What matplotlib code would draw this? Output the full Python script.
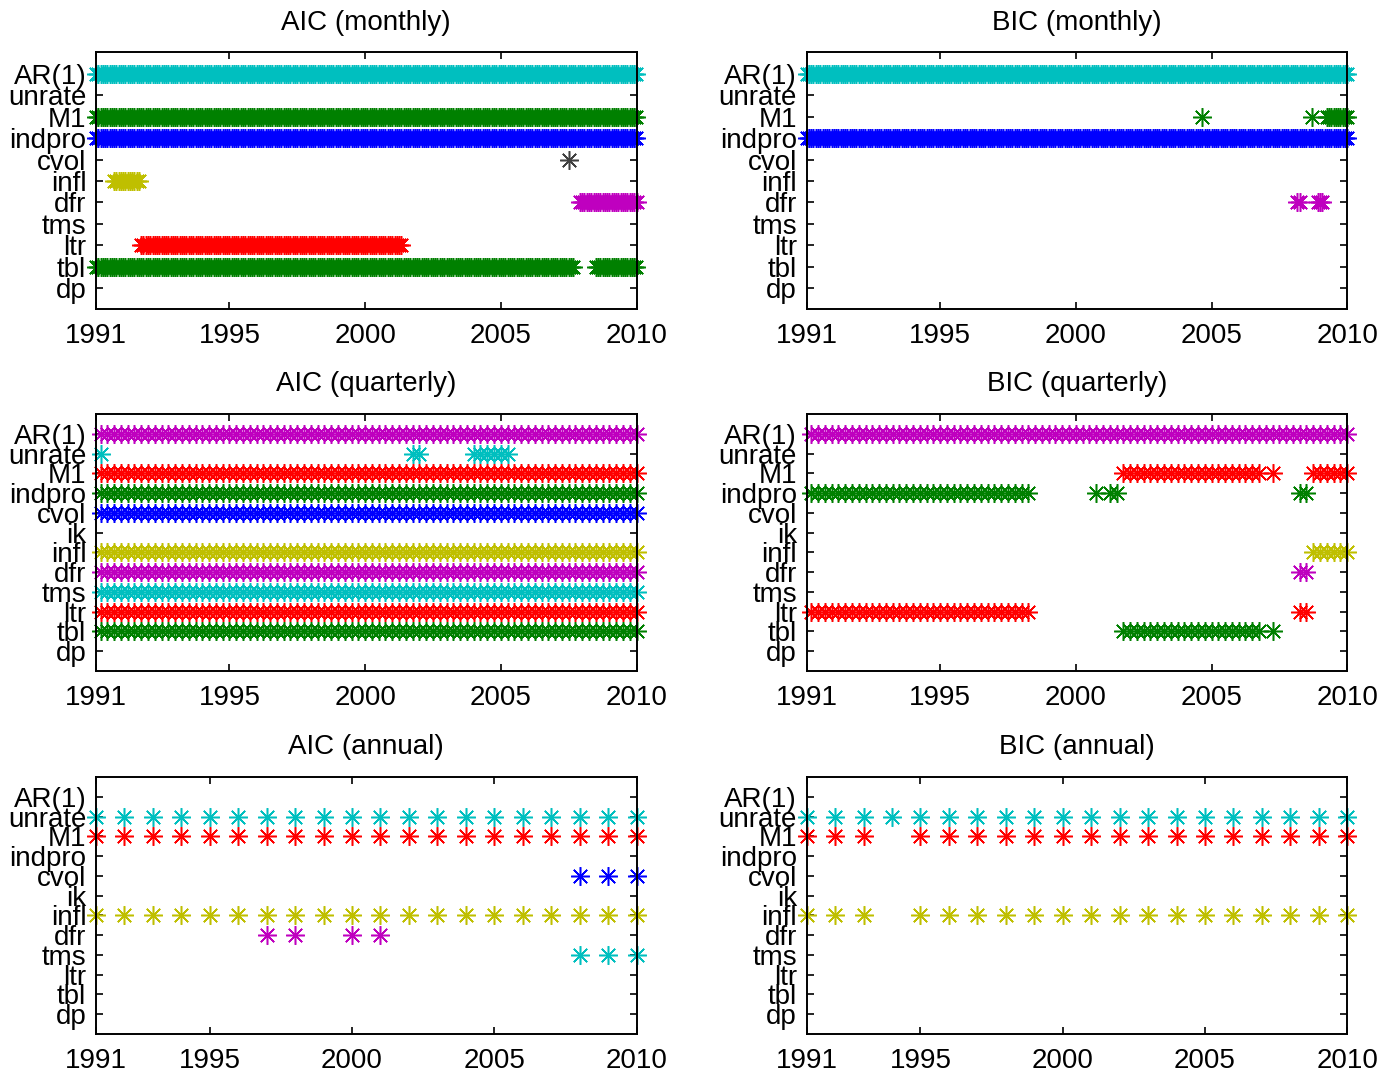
import numpy as np
import matplotlib
matplotlib.use('Agg')
import matplotlib.pyplot as plt

plt.rcParams['font.family'] = ['Liberation Sans', 'DejaVu Sans']

# ---------------- labels ----------------
LABELS_M = ['AR(1)', 'unrate', 'M1', 'indpro', 'cvol', 'infl', 'dfr', 'tms', 'ltr', 'tbl', 'dp']
LABELS_QA = ['AR(1)', 'unrate', 'M1', 'indpro', 'cvol', 'ik', 'infl', 'dfr', 'tms', 'ltr', 'tbl', 'dp']

XTICKS_MQ = [1990.083, 1995, 2000, 2005, 2010]
XTICKS_A = [1991, 1995, 2000, 2005, 2010]
XTICKLABELS = ['1991', '1995', '2000', '2005', '2010']

# ---------------- selection periods (start, end) in decimal years ----------------
aic_monthly = {
    'AR(1)': [(1990.083, 2010.0)],
    'M1': [(1990.083, 2010.0)],
    'indpro': [(1990.083, 2010.0)],
    'cvol': [(2007.5, 2007.5)],
    'infl': [(1990.75, 1991.625)],
    'dfr': [(2007.917, 2010.0)],
    'ltr': [(1991.75, 2001.333)],
    'tbl': [(1990.083, 2007.667), (2008.5, 2010.0)],
}
bic_monthly = {
    'AR(1)': [(1990.083, 2010.0)],
    'M1': [(2004.667, 2004.667), (2008.708, 2008.708), (2009.25, 2010.0)],
    'indpro': [(1990.083, 2010.0)],
    'dfr': [(2008.167, 2008.25), (2008.917, 2009.083)],
}
aic_quarterly = {
    'AR(1)': [(1990.25, 2010.0)],
    'unrate': [(1990.25, 1990.25), (2001.75, 2002.0), (2004.0, 2005.25)],
    'M1': [(1990.25, 2010.0)],
    'indpro': [(1990.25, 2010.0)],
    'cvol': [(1990.25, 2010.0)],
    'infl': [(1990.25, 2010.0)],
    'dfr': [(1990.25, 2010.0)],
    'tms': [(1990.25, 2010.0)],
    'ltr': [(1990.25, 2010.0)],
    'tbl': [(1990.25, 2010.0)],
}
bic_quarterly = {
    'AR(1)': [(1990.25, 2010.0)],
    'M1': [(2001.75, 2006.75), (2007.25, 2007.25), (2008.75, 2010.0)],
    'indpro': [(1990.25, 1998.25), (2000.75, 2000.75), (2001.25, 2001.5), (2008.25, 2008.5)],
    'infl': [(2008.75, 2010.0)],
    'dfr': [(2008.25, 2008.5)],
    'ltr': [(1990.25, 1998.25), (2008.25, 2008.5)],
    'tbl': [(2001.75, 2006.75), (2007.25, 2007.25)],
}
aic_annual = {
    'unrate': [(1991, 2010)],
    'M1': [(1991, 2010)],
    'cvol': [(2008, 2010)],
    'infl': [(1991, 2010)],
    'dfr': [(1997, 1998), (2000, 2001)],
    'tms': [(2008, 2010)],
}
bic_annual = {
    'unrate': [(1991, 2010)],
    'M1': [(1991, 1993), (1995, 2010)],
    'infl': [(1991, 1993), (1995, 2010)],
}

# MATLAB classic colour order
COLORS = [(0, 0, 1), (0, 0.5, 0), (1, 0, 0), (0, 0.75, 0.75),
          (0.75, 0, 0.75), (0.75, 0.75, 0), (0.25, 0.25, 0.25)]

PANELS = [
    ('AIC (monthly)', aic_monthly, LABELS_M, 1 / 12, (1990.083, 2010.0), XTICKS_MQ),
    ('BIC (monthly)', bic_monthly, LABELS_M, 1 / 12, (1990.083, 2010.0), XTICKS_MQ),
    ('AIC (quarterly)', aic_quarterly, LABELS_QA, 0.25, (1990.25, 2010.0), XTICKS_MQ),
    ('BIC (quarterly)', bic_quarterly, LABELS_QA, 0.25, (1990.25, 2010.0), XTICKS_MQ),
    ('AIC (annual)', aic_annual, LABELS_QA, 1.0, (1991, 2010), XTICKS_A),
    ('BIC (annual)', bic_annual, LABELS_QA, 1.0, (1991, 2010), XTICKS_A),
]

W, H = 1396, 1075
fig = plt.figure(figsize=(W / 100, H / 100), dpi=100)

col_left = [96, 806.7]
col_width = 540.5
row_top = [52.5, 414, 777]
row_height = 257

asterisk = (8, 2, 0)

for k, (title, data, labels, step, xlim, xticks) in enumerate(PANELS):
    r, c = divmod(k, 2)
    ax = fig.add_axes([col_left[c] / W, 1 - (row_top[r] + row_height) / H,
                       col_width / W, row_height / H])
    n = len(labels)
    # plot from the bottom label upwards (colour order follows)
    for y in range(1, n + 1):
        name = labels[n - y]
        color = COLORS[(y - 1) % len(COLORS)]
        runs = data.get(name, [])
        xs = []
        for s, e in runs:
            xs.extend(np.arange(s, e + step / 2, step))
        xs = np.array(xs)
        if len(xs) == 0:
            continue
        ax.plot(xs, np.full(len(xs), y), linestyle='none', marker=asterisk,
                markersize=13.5, markeredgewidth=1.1, color=color, clip_on=False)
    ax.set_xlim(*xlim)
    ax.set_ylim(0, n + 1)
    ax.set_yticks(range(1, n + 1))
    ax.set_yticklabels(labels[::-1])
    ax.set_xticks(xticks)
    ax.set_xticklabels(XTICKLABELS)
    ax.tick_params(direction='in', length=5, width=1.2, top=True, right=True,
                   labelsize=20, colors='black')
    ax.tick_params(axis='x', pad=10)
    ax.tick_params(axis='y', pad=7)
    for sp in ax.spines.values():
        sp.set_linewidth(1.4)
    ax.set_title(title, fontsize=20, pad=16.5)

fig.savefig('out.png', dpi=100)
